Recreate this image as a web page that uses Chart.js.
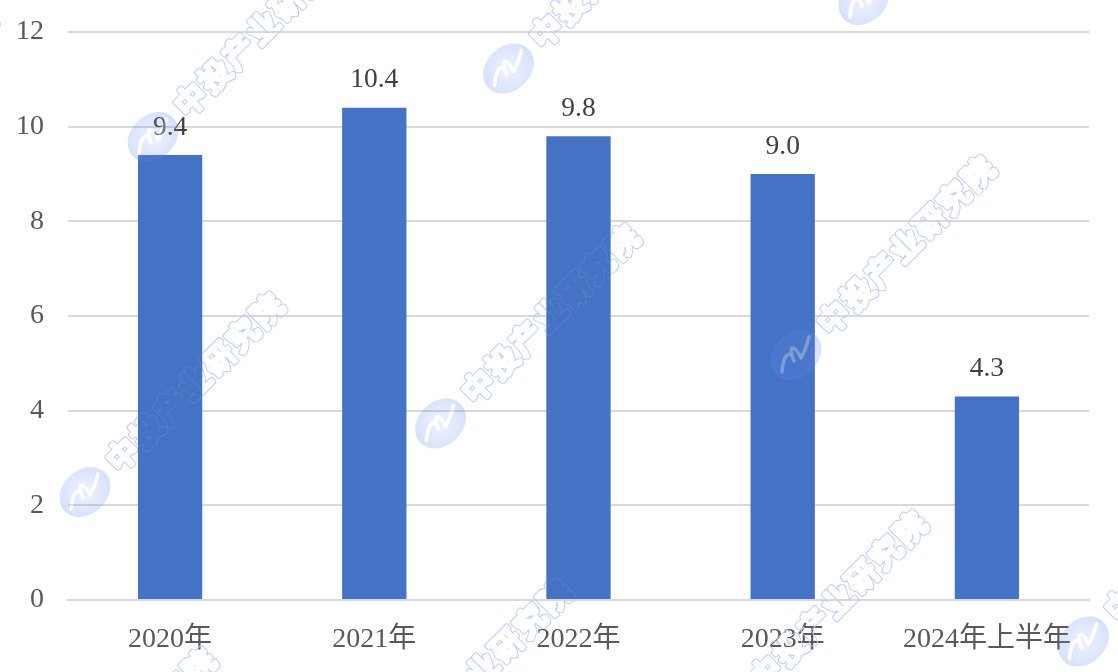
<!DOCTYPE html>
<html><head><meta charset="utf-8">
<style>html,body{margin:0;padding:0;background:#fff}#w{position:relative;width:1118px;height:672px}</style>
<script src="https://cdn.jsdelivr.net/npm/chart.js@4"></script></head>
<body><div id="w"><canvas id="c" width="1118" height="672"></canvas></div>
<script>
const categories=["2020年","2021年","2022年","2023年","2024年上半年"];
const values=[9.4,10.4,9.8,9.0,4.3];
const valueLabels=["9.4","10.4","9.8","9.0","4.3"];
const watermarkText="中投产业研究院";
const font="'Liberation Serif','Noto Sans CJK SC',serif";
const labelPlugin={id:'vl',afterDatasetsDraw(ch){const c=ch.ctx;const m=ch.getDatasetMeta(0);c.save();c.font="27.5px "+font;c.fillStyle="#404040";c.textAlign="center";c.textBaseline="alphabetic";
m.data.forEach((b,i)=>c.fillText(valueLabels[i],b.x,b.y-20.5));c.restore();}};
function eachStamp(fn){for(let i=-2;i<5;i++)for(let j=-1;j<3;j++)fn(85+355.5*i+68*j,492-68.5*i-355*j);}
function ringLayer(w,h){
  const o=document.createElement('canvas');o.width=w;o.height=h;const c=o.getContext('2d');
  const pass=(lw)=>eachStamp((x,y)=>{c.save();c.translate(x,y);c.rotate(-0.785);
    c.font="500 31px 'Noto Sans CJK SC'";c.textAlign="center";c.textBaseline="middle";c.lineJoin="round";c.lineWidth=lw;c.strokeStyle="#BCCBFA";
    [...watermarkText].forEach((t,i)=>c.strokeText(t,53+i*34,0));c.restore();});
  pass(5.4);
  c.globalCompositeOperation='destination-out';pass(3.6);
  return o;
}
function squiggle(c){c.lineWidth=3.5;c.lineCap="round";c.lineJoin="round";c.beginPath();c.moveTo(-14,17);c.quadraticCurveTo(-13,4,-9,0);c.quadraticCurveTo(-4,-3,-2,6);c.quadraticCurveTo(-6,-3,-4,-7);c.quadraticCurveTo(0,-8,5,3);c.quadraticCurveTo(10,-6,13,-18);c.stroke();}
function logoLayer(w,h){
  const o=document.createElement('canvas');o.width=w;o.height=h;const c=o.getContext('2d');
  eachStamp((x,y)=>{c.save();c.translate(x,y);c.save();c.rotate(-0.75);
    const g=c.createRadialGradient(0,0,4,0,0,30);
    g.addColorStop(0,"rgba(100,140,240,0.13)");g.addColorStop(1,"rgba(100,140,240,0.28)");
    c.fillStyle=g;c.beginPath();c.ellipse(0,0,28,22,0,0,Math.PI*2);c.fill();c.restore();
    c.globalCompositeOperation='destination-out';c.strokeStyle="#000";squiggle(c);
    c.globalCompositeOperation='source-over';c.strokeStyle="rgba(255,255,255,0.3)";squiggle(c);
    c.restore();});
  return o;
}
let layer=null;
const watermarkPlugin={id:'wm',
  beforeDatasetsDraw(ch){layer=ringLayer(ch.width,ch.height);ch.ctx.drawImage(layer,0,0);},
  afterDatasetsDraw(ch){const c=ch.ctx;c.save();c.globalAlpha=0.15;c.drawImage(layer,0,0);c.restore();},
  afterDraw(ch){ch.ctx.drawImage(logoLayer(ch.width,ch.height),0,0);}};
new Chart(document.getElementById('c'),{type:'bar',plugins:[watermarkPlugin,labelPlugin],
data:{labels:categories,datasets:[{data:values,backgroundColor:"#4472C4",barPercentage:0.315,categoryPercentage:1}]},
options:{responsive:false,animation:false,
layout:{padding:{left:0,right:29,top:32,bottom:0}},
plugins:{legend:{display:false},tooltip:{enabled:false}},
scales:{x:{afterFit(s){s.height=72;s.paddingLeft=0;s.paddingRight=0},grid:{display:false},border:{color:"#D9D9D9",width:2},ticks:{color:"#595959",font:{size:28,family:font},maxRotation:0,padding:15}},
y:{min:0,max:12,afterFit(s){s.width=68;s.paddingTop=0;s.paddingBottom=0},grid:{color:"#D9D9D9",lineWidth:2,drawTicks:false},border:{display:false},ticks:{stepSize:2,color:"#595959",font:{size:28,family:font},padding:24}}}}});
</script></body></html>
